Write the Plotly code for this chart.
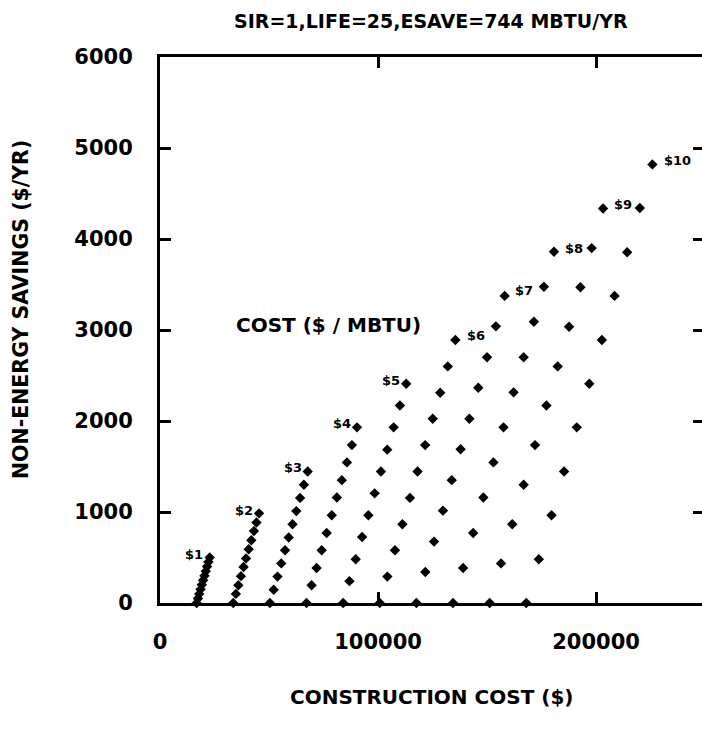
import plotly.graph_objects as go

# Energy price for each curve ($/MBTU)
price_labels = ["$1", "$2", "$3", "$4", "$5", "$6", "$7", "$8", "$9", "$10"]

# Construction cost ($) and non-energy savings ($/yr) along each price curve
cost_p1 = [16800, 17400, 18000, 18600, 19200, 19800, 20400, 21000, 21600, 22200, 22800]
save_p1 = [0, 50, 100, 150, 200, 250, 300, 350, 400, 450, 500]

cost_p2 = [33600, 34800, 35940, 37140, 38340, 39480, 40680, 41880, 43080, 44220, 45420]
save_p2 = [0, 100, 195, 295, 395, 490, 590, 690, 790, 885, 985]

cost_p3 = [50400, 52140, 53880, 55620, 57360, 59040, 60780, 62520, 64260, 66000, 67740]
save_p3 = [0, 145, 290, 435, 580, 720, 865, 1010, 1155, 1300, 1445]

cost_p4 = [67200, 69540, 71820, 74160, 76440, 78780, 81120, 83400, 85740, 88020, 90360]
save_p4 = [0, 195, 385, 580, 770, 965, 1160, 1350, 1545, 1735, 1930]

cost_p5 = [84000, 86880, 89760, 92700, 95580, 98460, 101340, 104220, 107160, 110040, 112920]
save_p5 = [0, 240, 480, 725, 965, 1205, 1445, 1685, 1930, 2170, 2410]

cost_p6 = [100800, 104280, 107760, 111180, 114660, 118140, 121620, 125100, 128520, 132000, 135480]
save_p6 = [0, 290, 580, 865, 1155, 1445, 1735, 2025, 2310, 2600, 2890]

cost_p7 = [117600, 121680, 125700, 129780, 133800, 137880, 141900, 145980, 150000, 154080, 158100]
save_p7 = [0, 340, 675, 1015, 1350, 1690, 2025, 2365, 2700, 3040, 3375]

cost_p8 = [134400, 139020, 143640, 148320, 152940, 157560, 162180, 166800, 171480, 176100, 180720]
save_p8 = [0, 385, 770, 1160, 1545, 1930, 2315, 2700, 3090, 3475, 3860]

cost_p9 = [151200, 156420, 161580, 166800, 172020, 177240, 182400, 187620, 192840, 198000, 203220]
save_p9 = [0, 435, 865, 1300, 1735, 2170, 2600, 3035, 3470, 3900, 4335]

cost_p10 = [168000, 173760, 179580, 185340, 191160, 196920, 202680, 208500, 214260, 220080, 225840]
save_p10 = [0, 480, 965, 1445, 1930, 2410, 2890, 3375, 3855, 4340, 4820]

x_ticks = [0, 100000, 200000]
y_ticks = [0, 1000, 2000, 3000, 4000, 5000, 6000]

curves = [
    (cost_p1, save_p1), (cost_p2, save_p2), (cost_p3, save_p3), (cost_p4, save_p4),
    (cost_p5, save_p5), (cost_p6, save_p6), (cost_p7, save_p7), (cost_p8, save_p8),
    (cost_p9, save_p9), (cost_p10, save_p10),
]

FONT = "DejaVu Sans"
BOLD = dict(family=FONT, color="black", weight="bold")

fig = go.Figure()
for (xs, ys), lab in zip(curves, price_labels):
    fig.add_trace(go.Scatter(
        x=xs, y=ys, mode="markers", name=lab,
        marker=dict(symbol="diamond", size=8, color="black"),
        cliponaxis=False, showlegend=False, hoverinfo="x+y",
    ))

# invisible trace that carries the right-hand tick axis
fig.add_trace(go.Scatter(x=[x_ticks[0]], y=[y_ticks[0]], yaxis="y2", mode="markers",
                         marker=dict(opacity=0), showlegend=False, hoverinfo="skip"))

# price labels next to the top point of each curve (left side for low prices)
label_shift = [(-16, 3), (-15, 3), (-15, 4), (-15, 4), (-15, 3),
               (21, 5), (19, 5), (20, 3), (20, 4), (25, 4)]
for (xs, ys), lab, (dx, dy) in zip(curves, price_labels, label_shift):
    fig.add_annotation(x=xs[-1], y=ys[-1], text=lab, showarrow=False,
                       xshift=dx, yshift=dy, font=dict(size=13, **BOLD))

fig.add_annotation(x=77500, y=3050, text="COST ($ / MBTU)", showarrow=False,
                   font=dict(size=20, **BOLD))

centered = dict(xref="paper", yref="paper", xanchor="center", yanchor="middle",
                showarrow=False)
fig.add_annotation(x=0.5, y=1.066, text="SIR=1,LIFE=25,ESAVE=744 MBTU/YR",
                   font=dict(size=19, **BOLD), **centered)
fig.add_annotation(x=0.5, y=-0.172, text="CONSTRUCTION COST ($)",
                   font=dict(size=20, **BOLD), **centered)
fig.add_annotation(x=-0.256, y=0.537, textangle=-90, text="NON-ENERGY SAVINGS ($/YR)",
                   font=dict(size=20.5, **BOLD), **centered)

axis_common = dict(showgrid=False, zeroline=False, ticks="inside", ticklen=11,
                   tickwidth=3, tickcolor="black", linecolor="black", linewidth=3)

fig.update_layout(
    width=702, height=739,
    margin=dict(l=160, r=0, t=57, b=136),
    paper_bgcolor="white", plot_bgcolor="white",
    xaxis=dict(range=[0, 248600], tickvals=x_ticks, tickformat="d",
               showline=True, mirror="ticks", ticklabelstandoff=18,
               tickfont=dict(size=21, **BOLD), **axis_common),
    yaxis=dict(range=[0, 6000], tickvals=y_ticks, tickformat="d",
               showline=True, mirror=False, ticklabelstandoff=20,
               tickfont=dict(size=21, **BOLD), **axis_common),
    yaxis2=dict(overlaying="y", side="right", range=[0, 6000], tickvals=y_ticks,
                showticklabels=False, showline=False, showgrid=False, zeroline=False,
                ticks="inside", ticklen=9, tickwidth=3, tickcolor="black"),
)

fig.write_html("out.html")
